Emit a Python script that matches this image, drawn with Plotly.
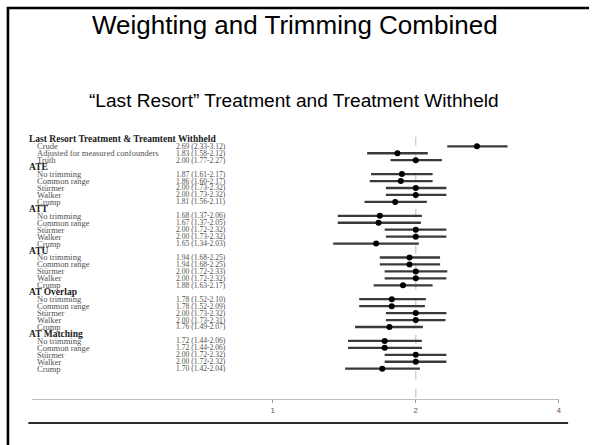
import plotly.graph_objects as go
import math

W, H = 592, 445

# ---- data ----
header_title = "Last Resort Treatment & Treamtent Withheld"
top_labels = ["Crude", "Adjusted for measured confounders", "Truth"]
top_est = [2.69, 1.83, 2.00]
top_lo = [2.33, 1.58, 1.77]
top_hi = [3.12, 2.12, 2.27]

groups = ["ATE", "ATT", "ATU", "AT Overlap", "AT Matching"]
methods = ["No trimming", "Common range", "Stürmer", "Walker", "Crump"]
group_est = [
    [1.87, 1.86, 2.00, 2.00, 1.81],
    [1.68, 1.67, 2.00, 2.00, 1.65],
    [1.94, 1.94, 2.00, 2.00, 1.88],
    [1.78, 1.78, 2.00, 2.00, 1.76],
    [1.72, 1.72, 2.00, 2.00, 1.70],
]
group_lo = [
    [1.61, 1.60, 1.73, 1.73, 1.56],
    [1.37, 1.37, 1.72, 1.73, 1.34],
    [1.68, 1.68, 1.72, 1.72, 1.63],
    [1.52, 1.52, 1.73, 1.73, 1.49],
    [1.44, 1.44, 1.72, 1.72, 1.42],
]
group_hi = [
    [2.17, 2.17, 2.32, 2.32, 2.11],
    [2.06, 2.05, 2.32, 2.32, 2.03],
    [2.25, 2.25, 2.33, 2.32, 2.17],
    [2.10, 2.09, 2.32, 2.31, 2.07],
    [2.06, 2.06, 2.32, 2.32, 2.04],
]
tick_vals = [1, 2, 4]
tick_text = ["1", "2", "4"]
ref_value = 2

# ---- build rows ----
rows = []  # (label, is_header, est, lo, hi)
rows.append((header_title, True, None, None, None))
for l, e, a, b in zip(top_labels, top_est, top_lo, top_hi):
    rows.append((l, False, e, a, b))
for g, es, los, his in zip(groups, group_est, group_lo, group_hi):
    rows.append((g, True, None, None, None))
    for m, e, a, b in zip(methods, es, los, his):
        rows.append((m, False, e, a, b))

def px(x):
    return x / W

def py(y):
    return 1 - y / H

fig = go.Figure()

# reference dashed line
fig.add_trace(go.Scatter(x=[ref_value, ref_value], y=[-0.38, 37.42], mode="lines",
                         line=dict(color="#c8c8c8", width=1.2, dash="dash"),
                         hoverinfo="skip", showlegend=False))

xs, ys, ep, em = [], [], [], []
for i, (lab, hdr, e, a, b) in enumerate(rows):
    if e is not None:
        xs.append(e); ys.append(i); ep.append(b - e); em.append(e - a)

fig.add_trace(go.Scatter(
    x=xs, y=ys, mode="markers",
    marker=dict(color="black", size=6),
    error_x=dict(type="data", symmetric=False, array=ep, arrayminus=em,
                 color="#3a3a3a", thickness=2.3, width=0),
    showlegend=False))

annotations = []
for i, (lab, hdr, e, a, b) in enumerate(rows):
    if hdr:
        annotations.append(dict(x=px(27), y=i, xref="paper", yref="y", text="<b>%s</b>" % lab,
                                showarrow=False, xanchor="left", yanchor="middle",
                                font=dict(family="Liberation Serif", size=9.5, color="#1a1a1a")))
    else:
        annotations.append(dict(x=px(35), y=i, xref="paper", yref="y", text=lab,
                                showarrow=False, xanchor="left", yanchor="middle",
                                font=dict(family="Liberation Serif", size=8.5, color="#505050")))
        annotations.append(dict(x=px(175), y=i, xref="paper", yref="y",
                                text="%.2f (%.2f-%.2f)" % (e, a, b),
                                showarrow=False, xanchor="left", yanchor="middle",
                                font=dict(family="Liberation Serif", size=7.6, color="#505050")))

annotations.append(dict(x=px(296), y=py(25), xref="paper", yref="paper",
                        text="Weighting and Trimming Combined", showarrow=False,
                        xanchor="center", yanchor="middle",
                        font=dict(family="Liberation Sans", size=26, color="black")))
annotations.append(dict(x=px(295), y=py(100), xref="paper", yref="paper",
                        text="\u201cLast Resort\u201d Treatment and Treatment Withheld", showarrow=False,
                        xanchor="center", yanchor="middle",
                        font=dict(family="Liberation Sans", size=19.1, color="black")))

border_path = "M %f,%f L %f,%f L %f,%f" % (px(8), py(445), px(8), py(8), px(592), py(8))
shapes = [
    # slide border: left and top edges as one polyline
    dict(type="path", xref="paper", yref="paper", path=border_path,
         line=dict(color="black", width=2.6), layer="above"),
    # thick bottom rule
    dict(type="line", xref="paper", yref="paper", x0=px(28.5), x1=px(571), y0=py(423), y1=py(423),
         line=dict(color="#2b2b2b", width=2.2)),
]

x_left = 31.7
one_px = 274.2
per_doubling = 143.7
lo_log10 = ((x_left - one_px) / per_doubling) * math.log10(2)

fig.update_layout(
    width=W, height=H,
    margin=dict(l=0, r=0, t=0, b=0),
    paper_bgcolor="white", plot_bgcolor="white",
    showlegend=False,
    annotations=annotations,
    shapes=shapes,
    xaxis=dict(type="log", domain=[px(x_left), px(561.6)],
               range=[lo_log10, math.log10(4)],
               tickvals=tick_vals, ticktext=tick_text,
               showgrid=False, zeroline=False,
               showline=True, linecolor="#bdbdbd", linewidth=1,
               ticks="outside", ticklen=3, tickcolor="#9a9a9a",
               tickfont=dict(family="Liberation Sans", size=8, color="#555"),
               anchor="y"),
    yaxis=dict(domain=[py(399.4), py(130)], range=[37.42, -1.345],
               visible=False, showgrid=False, zeroline=False),
)

fig.write_html("out.html", config={"displayModeBar": False, "staticPlot": True},
               post_script="document.body.style.margin='0';document.body.style.overflow='hidden';")
